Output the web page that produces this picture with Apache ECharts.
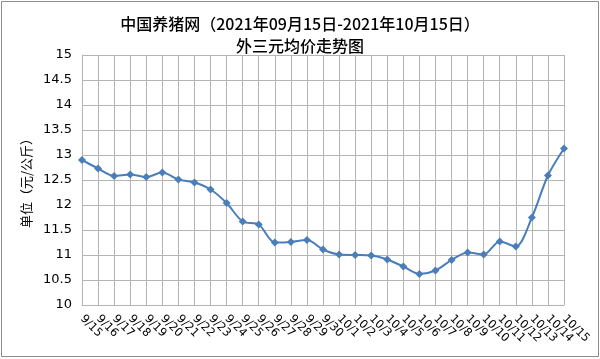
<!DOCTYPE html>
<html>
<head>
<meta charset="utf-8">
<script src="https://cdn.jsdelivr.net/npm/echarts@6/dist/echarts.min.js"></script>
<style>
  html, body { margin: 0; padding: 0; background: #fff; }
  #chart { width: 600px; height: 359px; }
</style>
</head>
<body>
<div id="chart"></div>
<script>
const dates = [
  "9/15", "9/16", "9/17", "9/18", "9/19", "9/20", "9/21", "9/22", "9/23", "9/24",
  "9/25", "9/26", "9/27", "9/28", "9/29", "9/30", "10/1", "10/2", "10/3", "10/4",
  "10/5", "10/6", "10/7", "10/8", "10/9", "10/10", "10/11", "10/12", "10/13", "10/14", "10/15"
];
const prices = [
  12.9, 12.73, 12.58, 12.61, 12.56, 12.65, 12.51, 12.45, 12.31, 12.04,
  11.67, 11.61, 11.25, 11.26, 11.3, 11.11, 11.01, 11.0, 10.99, 10.91,
  10.77, 10.62, 10.69, 10.9, 11.05, 11.01, 11.27, 11.17, 11.75, 12.59, 13.13
];
const titleText = "中国养猪网（2021年09月15日-2021年10月15日）\n外三元均价走势图";
const yName = "单位（元/公斤）";

const chart = echarts.init(document.getElementById("chart"));
const gridColor = "#b4b4b4";
chart.setOption({
  animation: false,
  title: {
    text: titleText,
    left: "center",
    top: 8,
    textStyle: {
      fontFamily: "Noto Sans CJK SC",
      fontSize: 16,
      fontWeight: 500,
      lineHeight: 22,
      color: "#000",
    },
  },
  graphic: [
    {
      type: "rect",
      shape: { x: 1.5, y: 1.5, width: 597, height: 355 },
      style: { fill: "none", stroke: "#8c8c8c", lineWidth: 1 },
    },
  ],
  grid: {
    left: 82,
    right: 36,
    top: 55,
    bottom: 54,
  },
  xAxis: {
    type: "category",
    data: dates,
    boundaryGap: false,
    axisTick: { show: false },
    axisLine: { lineStyle: { color: gridColor } },
    splitLine: { show: true, lineStyle: { color: gridColor } },
    axisLabel: {
      rotate: -45,
      interval: 0,
      margin: 12,
      fontSize: 11.5,
      color: "#000",
      fontFamily: "DejaVu Sans",
    },
  },
  yAxis: {
    type: "value",
    min: 10,
    max: 15,
    interval: 0.5,
    name: yName,
    nameLocation: "middle",
    nameGap: 48,
    nameTextStyle: {
      fontFamily: "Noto Sans CJK SC",
      fontSize: 13,
      color: "#000",
    },
    axisTick: { show: false },
    axisLine: { show: true, lineStyle: { color: gridColor } },
    splitLine: { lineStyle: { color: gridColor } },
    axisLabel: {
      fontSize: 13,
      color: "#000",
      margin: 10,
      fontFamily: "DejaVu Sans",
    },
  },
  series: [
    {
      type: "line",
      data: prices,
      smooth: 0.3,
      symbol: "diamond",
      symbolSize: 8,
      lineStyle: { color: "#4a7ebb", width: 2 },
      itemStyle: { color: "#4a7ebb" },
    },
  ],
});
</script>
</body>
</html>
